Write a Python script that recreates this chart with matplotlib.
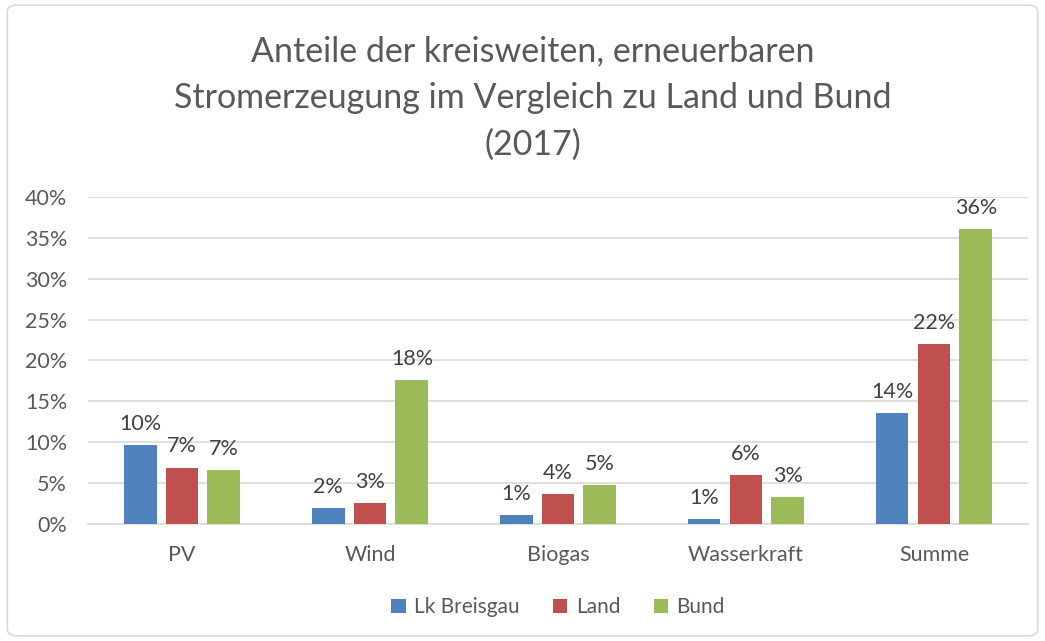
import numpy as np
import matplotlib.pyplot as plt
from matplotlib.patches import FancyBboxPatch

plt.rcParams['font.family'] = ['Lato', 'DejaVu Sans']

# Data (shares of renewable power generation, 2017)
categories = ['PV', 'Wind', 'Biogas', 'Wasserkraft', 'Summe']
series_names = ['Lk Breisgau', 'Land', 'Bund']
lk_breisgau = [0.097, 0.019, 0.011, 0.006, 0.136]
land = [0.069, 0.026, 0.037, 0.060, 0.220]
bund = [0.066, 0.176, 0.048, 0.033, 0.361]
colors = ['#4f81bd', '#c0504d', '#9bbb59']

fig = plt.figure(figsize=(10.45, 6.41), dpi=100)
ax = fig.add_axes([0.0842, 0.1825, 0.8995, 0.5102])

x = np.arange(len(categories))
width = 0.175
offset = 0.223
for i, (name, vals) in enumerate(zip(series_names, [lk_breisgau, land, bund])):
    pos = x + (i - 1) * offset
    bars = ax.bar(pos, vals, width, color=colors[i], label=name, zorder=3)
    for b, v in zip(bars, vals):
        ax.annotate(f'{v * 100:.0f}%', (b.get_x() + b.get_width() / 2, v),
                    xytext=(0, 8), textcoords='offset points',
                    ha='center', va='bottom', fontsize=15.5, color='#404040')

ax.set_xlim(-0.5, len(categories) - 0.5)
ax.set_ylim(0, 0.40)
ax.set_yticks(np.arange(0, 0.41, 0.05))
ax.set_yticklabels([f'{int(round(t * 100))}%' for t in np.arange(0, 0.41, 0.05)])
ax.set_xticks(x)
ax.set_xticklabels(categories)
ax.tick_params(axis='both', length=0, labelsize=15.5, labelcolor='#595959')
ax.tick_params(axis='x', pad=15)
ax.tick_params(axis='y', pad=15)
ax.grid(axis='y', color='#d9d9d9', linewidth=1.2, zorder=0)
for s in ['top', 'right', 'left']:
    ax.spines[s].set_visible(False)
ax.spines['bottom'].set_color('#d9d9d9')
ax.spines['bottom'].set_linewidth(1.2)

fig.text(0.51, 0.847, 'Anteile der kreisweiten, erneuerbaren\nStromerzeugung im Vergleich zu Land und Bund\n(2017)',
         ha='center', va='center', fontsize=24.5, color='#595959', linespacing=1.55)

ax.legend(loc='center', bbox_to_anchor=(0.5, -0.254), ncol=3, frameon=False,
          fontsize=15, labelcolor='#595959', handlelength=0.7, handleheight=0.7,
          handletextpad=0.4, columnspacing=1.6)

border = FancyBboxPatch((0.007, 0.008), 0.986, 0.984, boxstyle='round,pad=0,rounding_size=0.01',
                        transform=fig.transFigure, fill=False, edgecolor='#d9d9d9', linewidth=1.2)
fig.patches.append(border)

fig.savefig('out.png', dpi=100)
